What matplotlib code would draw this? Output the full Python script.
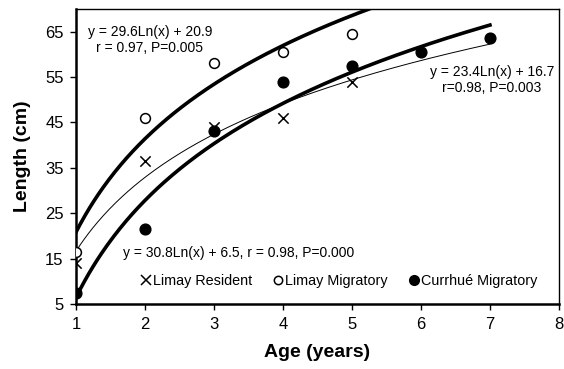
import numpy as np
import matplotlib

matplotlib.use("Agg")
import matplotlib.pyplot as plt
from matplotlib.lines import Line2D

plt.rcParams["font.family"] = ["Liberation Sans", "DejaVu Sans"]

# observed mean lengths by age
resident_age = [1, 2, 3, 4, 5]
resident_len = [14, 36.5, 44, 46, 54]
limay_mig_age = [1, 2, 3, 4, 5]
limay_mig_len = [16.5, 46, 58, 60.5, 64.5]
currhue_age = [1, 2, 3, 4, 5, 6, 7]
currhue_len = [7.5, 21.5, 43, 54, 57.5, 60.5, 63.5]

# fitted log curves: y = a*ln(x) + b, drawn over [x0, x1]
fit_resident = (23.4, 16.7, 1, 7)
fit_limay_mig = (29.6, 20.9, 1, 5.3)
fit_currhue = (30.8, 6.5, 1, 7)

fig = plt.figure(figsize=(5.64, 3.69), dpi=100)
ax = fig.add_axes([0.135, 0.176, 0.856, 0.80])

for (a, b, x0, x1), lw in [(fit_limay_mig, 2.6), (fit_currhue, 2.6), (fit_resident, 0.7)]:
    xs = np.linspace(x0, x1, 200)
    ax.plot(xs, a * np.log(xs) + b, color="black", lw=lw, zorder=2)

ax.scatter(resident_age, resident_len, marker="x", s=55, color="black", lw=1.1, zorder=3)
ax.scatter(limay_mig_age, limay_mig_len, marker="o", s=50, facecolor="white",
           edgecolor="black", lw=1.1, zorder=3)
ax.scatter(currhue_age, currhue_len, marker="o", s=60, color="black", zorder=3)

ax.set_xlim(1, 8)
ax.set_ylim(5, 70)
ax.set_xticks(range(1, 9))
ax.set_yticks(range(5, 66, 10))
ax.tick_params(labelsize=12, length=4, width=1, pad=5)
for side in ["left", "bottom"]:
    ax.spines[side].set_linewidth(1.8)
for side in ["top", "right"]:
    ax.spines[side].set_linewidth(1.0)

ax.set_xlabel("Age (years)", fontsize=14, fontweight="bold", labelpad=9)
ax.set_ylabel("Length (cm)", fontsize=14, fontweight="bold", labelpad=10)

ax.text(2.07, 63.2, "y = 29.6Ln(x) + 20.9\nr = 0.97, P=0.005", fontsize=10,
        ha="center", va="center", multialignment="center")
ax.text(7.03, 54.4, "y = 23.4Ln(x) + 16.7\nr=0.98, P=0.003", fontsize=10,
        ha="center", va="center", multialignment="center")
ax.text(1.68, 16.3, "y = 30.8Ln(x) + 6.5, r = 0.98, P=0.000", fontsize=10,
        ha="left", va="center")

handles = [
    Line2D([], [], marker="x", ls="none", color="black", ms=7, mew=1.1, label="Limay Resident"),
    Line2D([], [], marker="o", ls="none", mfc="white", mec="black", ms=6, mew=1.1, label="Limay Migratory"),
    Line2D([], [], marker="o", ls="none", color="black", ms=7, label="Currhué Migratory"),
]
ax.legend(handles=handles, loc="lower left", bbox_to_anchor=(0.12, 0.035), ncol=3,
          frameon=False, fontsize=10.4, handlelength=0.8, handletextpad=0.1,
          columnspacing=1.4, borderaxespad=0)

fig.savefig("out.png", dpi=100)
